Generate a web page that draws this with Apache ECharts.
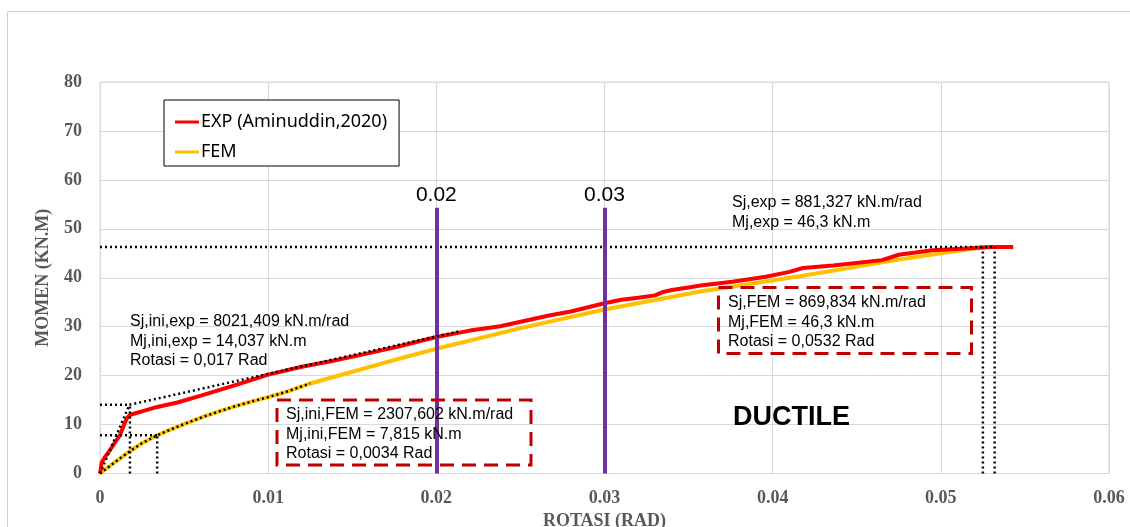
<!DOCTYPE html>
<html><head><meta charset="utf-8">
<script src="https://cdn.jsdelivr.net/npm/echarts@6/dist/echarts.min.js"></script>
<style>html,body{margin:0;padding:0;background:#fff}#c{width:1130px;height:527px}</style>
</head><body><div id="c"></div>
<script>
// ---- data ----
const xTicks = [0, 0.01, 0.02, 0.03, 0.04, 0.05, 0.06];
const yTicks = [0, 10, 20, 30, 40, 50, 60, 70, 80];
const expName = 'EXP (Aminuddin,2020)';
const femName = 'FEM';
const expData = [[0,0],[0.0001,2.2],[0.0003,3.4],[0.0006,4.8],[0.0009,6.4],[0.0012,7.9],[0.0014,9.7],[0.0016,11.3],[0.0018,12.0],[0.0026,12.8],[0.0034,13.6],[0.0046,14.5],[0.006,15.9],[0.008,18.0],[0.01,20.2],[0.012,21.8],[0.0138,23.0],[0.016,24.6],[0.0178,26.0],[0.02,27.9],[0.022,29.2],[0.0238,30.1],[0.0267,32.3],[0.028,33.1],[0.03,34.8],[0.031,35.5],[0.032,35.9],[0.033,36.4],[0.0335,37.1],[0.034,37.5],[0.035,38.0],[0.0357,38.4],[0.0376,39.2],[0.0396,40.2],[0.041,41.2],[0.0418,42.0],[0.0436,42.5],[0.0465,43.6],[0.0475,44.7],[0.0495,45.6],[0.0515,46.0],[0.053,46.3],[0.0543,46.3]];
const femData = [[0,0],[0.001,2.6],[0.0018,4.6],[0.0025,6.2],[0.0034,7.8],[0.004,8.7],[0.005,10.1],[0.006,11.4],[0.007,12.6],[0.008,13.7],[0.009,14.7],[0.01,15.6],[0.011,16.6],[0.0125,18.4],[0.015,20.8],[0.0175,23.2],[0.02,25.5],[0.0225,27.6],[0.025,29.7],[0.0275,31.6],[0.03,33.5],[0.0357,37.2],[0.0416,40.3],[0.0475,43.7],[0.05,45.0],[0.0526,46.3]];
const femDottedUntil = 0.0125;
const expTangent = [[0,0],[0.00175,14.037]];
const expSecant = [[0.00175,14.037],[0.0213,29.0]];
const guideLines = [
  [[0,46.3],[0.0531,46.3]],
  [[0.0525,0],[0.0525,46.3]],
  [[0.0532,0],[0.0532,46.3]],
  [[0,14.037],[0.0018,14.037]],
  [[0.00178,0],[0.00178,14.037]],
  [[0,7.815],[0.0034,7.815]],
  [[0.0034,0],[0.0034,7.815]]
];
const purpleLines = [0.02, 0.03];
const purpleTop = 54.3;
const notes = {
  exp: ['Sj,exp = 881,327 kN.m/rad','Mj,exp = 46,3 kN.m'],
  expIni: ['Sj,ini,exp = 8021,409 kN.m/rad','Mj,ini,exp = 14,037 kN.m','Rotasi = 0,017 Rad'],
  femIni: ['Sj,ini,FEM = 2307,602 kN.m/rad','Mj,ini,FEM = 7,815 kN.m','Rotasi = 0,0034 Rad'],
  fem: ['Sj,FEM = 869,834 kN.m/rad','Mj,FEM = 46,3 kN.m','Rotasi = 0,0532 Rad'],
  ductile: 'DUCTILE'
};

// ---- chart ----
const chart = echarts.init(document.getElementById('c'), null, {renderer:'canvas'});
const dotStyle = {color:'#000', width:2.5, type:[2,3]};
const series = [
  {name: expName, type:'line', data: expData, showSymbol:false, symbol:'none', lineStyle:{color:'#FF0000', width:4}, itemStyle:{color:'#FF0000'}, z:3},
  {name: femName, type:'line', data: femData, showSymbol:false, symbol:'none', lineStyle:{color:'#FFC000', width:4}, itemStyle:{color:'#FFC000'}, z:2},
  {name:'femDot', type:'line', data: femData.filter(p => p[0] <= femDottedUntil), symbol:'none', lineStyle:dotStyle, z:5, silent:true},
  {name:'expTan', type:'line', data: expTangent, symbol:'none', lineStyle:dotStyle, z:5},
  {name:'expSec', type:'line', data: expSecant, symbol:'none', lineStyle:dotStyle, z:5}
];
guideLines.forEach((g,i) => series.push({name:'guide'+i, type:'line', data:g, symbol:'none', lineStyle:dotStyle, z:4}));
series.push({
  name:'purple', type:'line', data:[], z:6,
  markLine:{symbol:'none', silent:true,
    lineStyle:{color:'#7030A0', width:4, type:'solid'},
    label:{show:true, position:'end', distance:2, color:'#000', fontFamily:'Liberation Sans', fontSize:21, formatter: p => String(p.data.xv)},
    data: purpleLines.map(v => [{coord:[v,0], xv:v},{coord:[v,purpleTop], xv:v}])
  }
});

function textLines(lines, x, yc, gap, size) {
  return lines.map((t,i) => ({type:'text', left:x, top: yc + i*gap - size*0.5, z:20,
    style:{text:t, fontFamily:'Liberation Sans', fontSize:size, fill:'#000'}}));
}
const fs = 16;
const graphics = [
  {type:'rect', shape:{x:7.5, y:11.5, width:1200, height:600}, style:{fill:'none', stroke:'#d0d0d0', lineWidth:1}, z:0, silent:true},
  {type:'rect', shape:{x:277, y:400, width:254, height:65}, style:{fill:'none', stroke:'#C00000', lineWidth:3, lineDash:[14,8]}, z:20},
  {type:'rect', shape:{x:718.5, y:287.5, width:253, height:66}, style:{fill:'none', stroke:'#C00000', lineWidth:3, lineDash:[14,8]}, z:20},
  {type:'text', left:733, top:404, z:20, style:{text:notes.ductile, fontFamily:'Liberation Sans', fontWeight:'bold', fontSize:27, fill:'#000'}}
].concat(textLines(notes.exp, 732, 203, 19.5, fs))
 .concat(textLines(notes.expIni, 130, 322, 19.5, fs))
 .concat(textLines(notes.femIni, 286, 415, 19.5, fs))
 .concat(textLines(notes.fem, 728, 303, 19.5, fs));

const axisFont = {fontFamily:'Liberation Serif', fontWeight:'bold', fontSize:18, color:'#595959'};
chart.setOption({
  animation:false,
  backgroundColor:'#fff',
  grid:{left:100, right:21, top:82, bottom:53.5, show:true, borderColor:'#d9d9d9', borderWidth:1, containLabel:false, outerBoundsMode:'none'},
  legend:{data:[expName, femName], orient:'vertical', left:164, top:100, padding:[12,12,4,11],
    itemWidth:24, itemHeight:3, itemGap:10, selectedMode:false, icon:'rect',
    borderColor:'#000', borderWidth:1, backgroundColor:'#fff',
    textStyle:{fontFamily:'Noto Sans', fontSize:18, color:'#000', lineHeight:20, padding:[0,0,0,-3]}},
  xAxis:{type:'value', min:xTicks[0], max:xTicks[xTicks.length-1], interval:0.01,
    name:'ROTASI (RAD)', nameLocation:'middle', nameGap:38, nameTextStyle:axisFont,
    axisLine:{show:true, lineStyle:{color:'#d9d9d9'}}, axisTick:{show:false},
    axisLabel:{...axisFont, margin:16, formatter: v => xTicks.includes(v) ? String(v) : ''},
    splitLine:{show:true, lineStyle:{color:'#d9d9d9'}}},
  yAxis:{type:'value', min:yTicks[0], max:yTicks[yTicks.length-1], interval:10,
    name:'MOMEN (KN.M)', nameLocation:'middle', nameGap:48, nameTextStyle:axisFont,
    axisLine:{show:true, lineStyle:{color:'#d9d9d9'}}, axisTick:{show:false},
    axisLabel:{...axisFont, margin:18},
    splitLine:{show:true, lineStyle:{color:'#d9d9d9'}}},
  series: series,
  graphic: graphics
});
</script></body></html>
